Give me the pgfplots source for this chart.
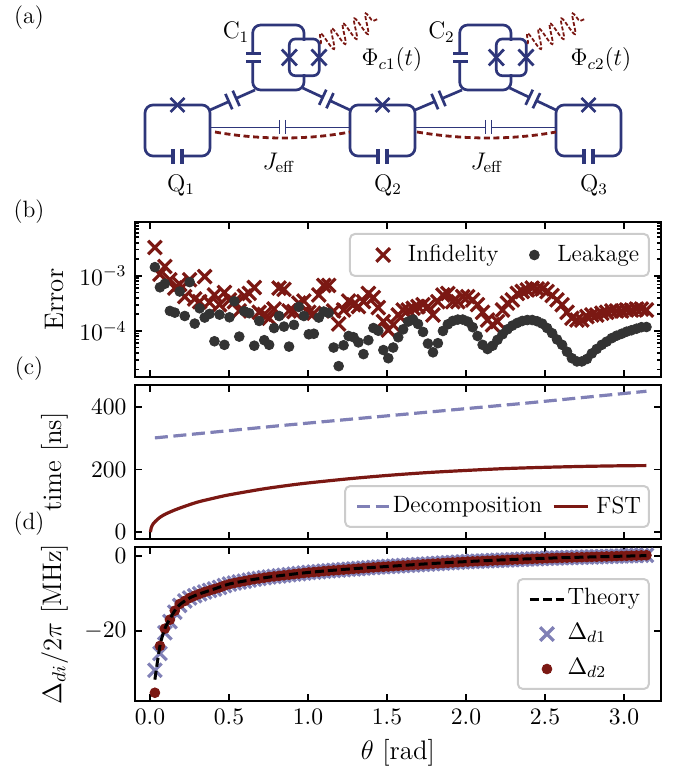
\documentclass[border=0pt]{standalone}
\usepackage{fix-cm}
\usepackage{pgfplots}
\pgfplotsset{compat=1.18}
\usepackage{pgfplotstable}
\usetikzlibrary{calc,decorations.pathmorphing}
\definecolor{dred}{RGB}{123,24,19}
\definecolor{lav}{RGB}{128,128,182}
\definecolor{navy}{RGB}{46,54,122}
\definecolor{lgray}{RGB}{51,51,51}
\definecolor{fr}{RGB}{204,204,204}
\renewcommand\normalsize{\fontsize{11.8}{14}\selectfont}
\pgfplotstableread{
t inf leak d1 d2
0.031 32.7e-4 14.4e-4 -30.5 -36.5
0.063 10.7e-4 6.2e-4 -26.0 -24.0
0.094 14.8e-4 7.2e-4 -20.5 -19.4
0.126 8.5e-4 2.31e-4 -17.5 -17.0
0.157 6.0e-4 2.15e-4 -15.0 -14.6
0.188 7.05e-4 5.2e-4 -13.2 -12.8
0.220 4.2e-4 1.87e-4 -12.0 -12.0
0.251 8.5e-4 7.7e-4 -11.2 -11.2
0.283 3.8e-4 1.36e-4 -10.6 -10.6
0.314 3.4e-4 2.58e-4 -10.1 -10.1
0.346 9.7e-4 1.75e-4 -9.6 -9.6
0.377 3.3e-4 2.04e-4 -9.2 -9.2
0.408 4.5e-4 0.65e-4 -8.8 -8.8
0.440 3.0e-4 1.98e-4 -8.4 -8.4
0.471 5.0e-4 0.56e-4 -7.9 -7.9
0.503 3.66e-4 1.77e-4 -7.5 -7.5
0.534 3.4e-4 3.46e-4 -7.2 -7.2
0.565 2.31e-4 0.79e-4 -6.95 -6.95
0.597 4.3e-4 2.28e-4 -6.7 -6.7
0.628 4.8e-4 2.1e-4 -6.45 -6.45
0.660 6.14e-4 0.54e-4 -6.2 -6.2
0.691 2.18e-4 1.52e-4 -6.0 -6.0
0.723 2.0e-4 0.68e-4 -5.8 -5.8
0.754 1.7e-4 0.56e-4 -5.6 -5.6
0.785 2.5e-4 1.13e-4 -5.45 -5.45
0.817 6.0e-4 1.87e-4 -5.3 -5.3
0.848 5.7e-4 1.2e-4 -5.15 -5.15
0.880 2.31e-4 0.52e-4 -5.0 -5.0
0.911 2.25e-4 1.29e-4 -4.85 -4.85
0.942 3.2e-4 2.73e-4 -4.7 -4.7
0.974 3.5e-4 1.87e-4 -4.55 -4.55
1.005 2.18e-4 0.87e-4 -4.4 -4.4
1.037 2.1e-4 0.89e-4 -4.3 -4.3
1.068 4.5e-4 1.75e-4 -4.2 -4.2
1.100 6.7e-4 2.25e-4 -4.05 -4.05
1.131 6.7e-4 2.12e-4 -3.95 -3.95
1.162 2.31e-4 0.5e-4 -3.85 -3.85
1.194 1.34e-4 0.23e-4 -3.75 -3.75
1.225 2.4e-4 0.55e-4 -3.65 -3.65
1.257 3.5e-4 0.81e-4 -3.55 -3.55
1.288 3.0e-4 0.77e-4 -3.45 -3.45
1.319 2.77e-4 0.62e-4 -3.35 -3.35
1.351 3.4e-4 0.38e-4 -3.25 -3.25
1.382 4.8e-4 0.68e-4 -3.15 -3.15
1.414 4.04e-4 1.13e-4 -3.05 -3.05
1.445 2.65e-4 1.01e-4 -2.95 -2.95
1.477 1.48e-4 0.45e-4 -2.88 -2.88
1.508 1.04e-4 0.32e-4 -2.8 -2.8
1.539 1.29e-4 0.5e-4 -2.72 -2.72
1.571 1.95e-4 0.77e-4 -2.62 -2.62
1.602 2.4e-4 1.07e-4 -2.54 -2.54
1.634 2.4e-4 1.48e-4 -2.46 -2.46
1.665 2.58e-4 1.61e-4 -2.38 -2.38
1.696 2.77e-4 1.34e-4 -2.30 -2.30
1.728 3.0e-4 0.96e-4 -2.22 -2.22
1.759 2.77e-4 0.59e-4 -2.14 -2.14
1.791 1.95e-4 0.41e-4 -2.06 -2.06
1.822 3.4e-4 0.6e-4 -1.98 -1.98
1.854 4.5e-4 1.0e-4 -1.90 -1.90
1.885 4.8e-4 1.32e-4 -1.82 -1.82
1.916 3.4e-4 1.52e-4 -1.74 -1.74
1.948 3.4e-4 1.61e-4 -1.66 -1.66
1.979 4.2e-4 1.61e-4 -1.58 -1.58
2.011 4.2e-4 1.48e-4 -1.50 -1.50
2.042 3.66e-4 1.17e-4 -1.44 -1.44
2.073 3.0e-4 0.81e-4 -1.39 -1.39
2.105 2.18e-4 0.56e-4 -1.33 -1.33
2.136 1.58e-4 0.47e-4 -1.28 -1.28
2.168 1.29e-4 0.54e-4 -1.22 -1.22
2.199 1.48e-4 0.69e-4 -1.16 -1.16
2.231 2.4e-4 0.87e-4 -1.11 -1.11
2.262 3.2e-4 1.07e-4 -1.05 -1.05
2.293 3.66e-4 1.25e-4 -0.99 -0.99
2.325 4.8e-4 1.4e-4 -0.94 -0.94
2.356 5.2e-4 1.52e-4 -0.88 -0.88
2.388 5.57e-4 1.58e-4 -0.82 -0.82
2.419 6.0e-4 1.58e-4 -0.77 -0.77
2.450 5.8e-4 1.5e-4 -0.71 -0.71
2.482 5.8e-4 1.36e-4 -0.66 -0.66
2.513 5.2e-4 1.13e-4 -0.60 -0.60
2.545 4.4e-4 0.91e-4 -0.56 -0.56
2.576 3.66e-4 0.7e-4 -0.52 -0.52
2.608 3.0e-4 0.56e-4 -0.48 -0.48
2.639 2.18e-4 0.42e-4 -0.44 -0.44
2.670 1.7e-4 0.32e-4 -0.40 -0.40
2.702 1.58e-4 0.28e-4 -0.36 -0.36
2.733 1.58e-4 0.28e-4 -0.32 -0.32
2.765 1.82e-4 0.31e-4 -0.28 -0.28
2.796 1.95e-4 0.39e-4 -0.24 -0.24
2.827 1.95e-4 0.47e-4 -0.20 -0.20
2.859 2.1e-4 0.56e-4 -0.16 -0.16
2.890 2.18e-4 0.64e-4 -0.12 -0.12
2.922 2.31e-4 0.74e-4 -0.08 -0.08
2.953 2.31e-4 0.82e-4 -0.04 -0.04
2.985 2.31e-4 0.89e-4 0.0 0.0
3.016 2.4e-4 0.97e-4 0.04 0.04
3.047 2.4e-4 1.03e-4 0.08 0.08
3.079 2.5e-4 1.1e-4 0.12 0.12
3.110 2.5e-4 1.17e-4 0.16 0.16
3.142 2.4e-4 1.18e-4 0.20 0.20
}\data
\pgfplotstableread{
t v
0.003 0
0.008 14
0.021 27
0.05 42
0.084 54
0.13 65
0.19 77
0.295 95
0.4 108
0.5 119
0.717 138
0.886 150
1 157
1.25 170
1.5 181
1.75 190
2 197
2.25 203
2.5 207
2.75 210
3 212
3.142 212.5
}\fst
\pgfplotstableread{
t v
0.031 -33
0.063 -24
0.094 -19.4
0.126 -16.8
0.157 -14.6
0.188 -13
0.251 -11.2
0.314 -10.1
0.4 -8.9
0.5 -7.5
0.628 -6.45
0.785 -5.45
1 -4.4
1.25 -3.5
1.5 -2.8
1.75 -2.1
2 -1.5
2.25 -1.0
2.5 -0.6
2.75 -0.3
3.142 0.1
}\theory
\tikzset{frameb/.style={draw=fr,line width=1pt,rounded corners=2.5pt,fill=white}}
\pgfplotsset{
 panel/.style={
  scale only axis, width=263.15pt, height=77pt, anchor=south west,
  xmin=-0.0968, xmax=3.234,
  xtick={0,0.5,1,1.5,2,2.5,3},
  tick align=inside, tick pos=both, clip mode=individual,
  major tick length=3.5pt, minor tick length=2pt,
  every tick/.style={black,line width=0.9pt},
  axis line style={line width=0.95pt},
  y label style={at={(axis description cs:-0.152,0.5)},anchor=center,font=\fontsize{13.4}{16}\selectfont},
  x label style={at={(axis description cs:0.5,-0.338)},anchor=center,font=\fontsize{13.4}{16}\selectfont},
  legend cell align=left,
  legend style={draw=none,fill=none,inner sep=0pt,anchor=west,nodes={inner xsep=2pt,inner ysep=1pt}},
 },
 crossm/.style={only marks,mark=x,mark size=4.8pt,mark options={line width=1.6pt}},
 dotm/.style={only marks,mark=*,mark size=2.45pt},
}
\newcommand\capac[4]{%
 \coordinate (A) at (#1,#2);\coordinate (B) at (#3,#4);
 \coordinate (M) at ($(A)!.5!(B)$);
 \coordinate (P) at ($(M)!2pt!(A)$);\coordinate (R) at ($(M)!2pt!(B)$);
 \draw (A)--(P);\draw (R)--(B);
 \draw ($(P)!4.2pt!90:(A)$)--($(P)!4.2pt!-90:(A)$);
 \draw ($(R)!4.2pt!90:(B)$)--($(R)!4.2pt!-90:(B)$);
}
\begin{document}
\normalsize
\begin{tikzpicture}
\path[use as bounding box] (0,0) rectangle (340pt,386pt);
\begin{axis}[panel, at={(67.35pt,197.5pt)}, height=77.5pt, ymode=log,
  ymin=1.46e-5, ymax=9.5e-3, ytick={1e-4,1e-3},
  minor ytick={2e-5,3e-5,4e-5,5e-5,6e-5,7e-5,8e-5,9e-5,2e-4,3e-4,4e-4,5e-4,6e-4,7e-4,8e-4,9e-4,2e-3,3e-3,4e-3,5e-3,6e-3,7e-3,8e-3,9e-3},
  xticklabels={}, ylabel={Error},
  legend columns=2,
  legend style={at={(0.4585,0.787)},/tikz/every even column/.append style={column sep=13.5pt},/tikz/every odd column/.append style={column sep=7pt}}]
\addplot[crossm,color=dred] table[x=t,y=inf]{\data};
\addlegendentry{Infidelity}
\addplot[dotm,color=lgray] table[x=t,y=leak]{\data};
\addlegendentry{Leakage}
\draw[frameb] (rel axis cs:0.409,0.652) rectangle (rel axis cs:0.977,0.923);
\end{axis}
\begin{axis}[panel, at={(67.35pt,116.5pt)}, ymin=-22, ymax=470, ytick={0,200,400},
  xticklabels={}, ylabel={time [ns]},
  legend columns=2,
  legend style={at={(0.4186,0.211)},/tikz/every even column/.append style={column sep=3pt},/tikz/every odd column/.append style={column sep=-2pt}}]
\addplot[color=lav,line width=1.6pt,dash pattern=on 6.5pt off 2.8pt] coordinates {(0.031,301) (0.8,339) (1.6,376) (2.4,413) (3.142,450)};
\addlegendentry{Decomposition}
\addplot[color=dred,line width=1.6pt,smooth] table[x=t,y=v]{\fst};
\addlegendentry{\hspace*{3.5pt}FST}
\draw[frameb] (rel axis cs:0.3999,0.078) rectangle (rel axis cs:0.977,0.344);
\end{axis}
\begin{axis}[panel, at={(67.35pt,35.5pt)}, ymin=-38.7, ymax=2.4, ytick={-20,0},
  xticklabel style={/pgf/number format/fixed,/pgf/number format/fixed zerofill,/pgf/number format/precision=1},
  xlabel={$\theta$ [rad]}, ylabel={$\Delta_{di}/2\pi$ [MHz]},
  legend style={at={(0.7473,0.435)},/tikz/row sep=4.5pt,/tikz/every odd column/.append style={column sep=-1pt},nodes={text height=8pt,text depth=3pt}}]
\addlegendimage{black,line width=1.5pt,dash pattern=on 4.5pt off 2pt}
\addlegendentry{Theory}
\addlegendimage{crossm,color=lav}
\addlegendentry{$\Delta_{d1}$}
\addlegendimage{dotm,color=dred}
\addlegendentry{$\Delta_{d2}$}
\addplot[forget plot,crossm,color=lav] table[x=t,y=d1]{\data};
\addplot[forget plot,dotm,color=dred] table[x=t,y=d2]{\data};
\addplot[forget plot,black,line width=1.5pt,dash pattern=on 4.5pt off 2pt,smooth] table[x=t,y=v]{\theory};
\draw[frameb] (rel axis cs:0.728,0.078) rectangle (rel axis cs:0.977,0.792);
\end{axis}
% schematic and panel letters, coordinates in reference pixels
\begin{scope}[shift={(0,386pt)},x=0.5pt,y=-0.5pt]
\node at (29,18) {(a)};
\node at (29,212) {(b)};
\node at (29,369) {(c)};
\node at (29,524) {(d)};
\begin{scope}[navy,line width=1.35pt]
\foreach \qx in {145,350,556}{
 \draw[rounded corners=4pt] (\qx,105) rectangle ++(65,51);
 \fill[white] (\qx+28,153) rectangle ++(9,6);
 \draw[line width=1.7pt] (\qx+28,149)--++(0,15);
 \draw[line width=1.7pt] (\qx+37,149)--++(0,15);
 \draw[line width=1.4pt] (\qx+25.5,98)--++(14,14);
 \draw[line width=1.4pt] (\qx+39.5,98)--++(-14,14);
}
\foreach \d in {0,207}{
 \draw[rounded corners=4pt] (252.7+\d,25) rectangle (304+\d,90);
 \fill[white] (249+\d,55) rectangle (256+\d,60);
 \draw[line width=1.7pt] (246+\d,53.3)--(261+\d,53.3);
 \draw[line width=1.7pt] (246+\d,61.7)--(261+\d,61.7);
 \draw[white,line width=1.8pt] (304+\d,41)--(304+\d,74);
 \draw[rounded corners=3pt] (289.3+\d,39) rectangle (319.3+\d,75.7);
 \foreach \cx in {289.3,319}{
  \draw[line width=1.4pt] (\cx-7.5+\d,49.5)--(\cx+7.5+\d,65.5);
  \draw[line width=1.4pt] (\cx+7.5+\d,49.5)--(\cx-7.5+\d,65.5);
 }
}
\capac{210}{110}{255}{90}
\capac{302.7}{88}{350}{110}
\capac{415}{110}{462}{90}
\capac{509.7}{88}{556}{110}
\end{scope}
\begin{scope}[navy,line width=0.45pt]
\draw (210,127)--(279,127) (279,120)--(279,134) (285,120)--(285,134) (285,127)--(350,127);
\draw (415,127)--(485,127) (485,120)--(485,134) (491,120)--(491,134) (491,127)--(556,127);
\end{scope}
\draw[dred,line width=1.4pt,dash pattern=on 3pt off 1.8pt] (215,132) .. controls (260,140) and (308,140) .. (350,132);
\draw[dred,line width=1.4pt,dash pattern=on 3pt off 1.8pt] (417,132) .. controls (465,140) and (512,140) .. (556,132);
\foreach \d in {0,207}{
 \draw[dred,line width=0.9pt,dash pattern=on 2pt off 1pt,decorate,decoration={snake,segment length=6.2pt,amplitude=5pt}] (320.7+\d,44)--(377.7+\d,19);
}
\begin{scope}[every node/.style={font=\fontsize{12}{14}\selectfont}]
\node at (236,32) {C$_1$};
\node at (441.5,32) {C$_2$};
\node at (392,60) {$\Phi_{c1}(t)$};
\node at (601,60) {$\Phi_{c2}(t)$};
\node at (279,163) {$J_{\mathrm{eff}}$};
\node at (487,163) {$J_{\mathrm{eff}}$};
\node at (181,185) {Q$_1$};
\node at (388,185) {Q$_2$};
\node at (594,185) {Q$_3$};
\end{scope}
\end{scope}
\end{tikzpicture}
\end{document}
